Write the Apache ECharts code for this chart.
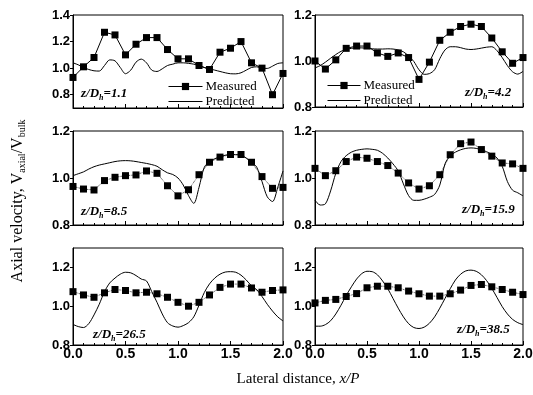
<!DOCTYPE html>
<html>
<head>
<meta charset="utf-8">
<script src="https://cdn.jsdelivr.net/npm/echarts@6/dist/echarts.min.js"></script>
<style>
  html, body { margin: 0; background: #fff; }
  #chart { width: 533px; height: 395px; }
</style>
</head>
<body>
<div id="chart"></div>
<script>
// x positions (x/P)
const measuredX = [0.0, 0.1, 0.2, 0.3, 0.4, 0.5, 0.6, 0.7, 0.8, 0.9, 1.0,
  1.1, 1.2, 1.3, 1.4, 1.5, 1.6, 1.7, 1.8, 1.9, 2.0];
const predictedX = [0.00, 0.05, 0.10, 0.15, 0.20, 0.25, 0.30, 0.35, 0.40, 0.45,
  0.50, 0.55, 0.60, 0.65, 0.70, 0.75, 0.80, 0.85, 0.90, 0.95, 1.00, 1.05, 1.10,
  1.15, 1.20, 1.25, 1.30, 1.35, 1.40, 1.45, 1.50, 1.55, 1.60, 1.65, 1.70, 1.75,
  1.80, 1.85, 1.90, 1.95, 2.00];

const panelLabels = ['1.1', '4.2', '8.5', '15.9', '26.5', '38.5'];
const xTickLabels = ['0.0', '0.5', '1.0', '1.5', '2.0'];

// measured V_axial/V_bulk
const measured1 = [0.93, 1.01, 1.08, 1.27, 1.25, 1.10, 1.18, 1.23, 1.23, 1.14, 1.07,
  1.07, 1.02, 0.99, 1.12, 1.15, 1.20, 1.04, 1.00, 0.80, 0.96];
const measured2 = [1.00, 0.965, 1.005, 1.055, 1.065, 1.065, 1.035, 1.02, 1.035, 1.015, 0.92,
  0.995, 1.09, 1.125, 1.15, 1.16, 1.15, 1.10, 1.04, 0.99, 1.015];
const measured3 = [0.964, 0.953, 0.949, 0.989, 1.003, 1.01, 1.013, 1.03, 1.02, 0.967, 0.924,
  0.95, 1.014, 1.067, 1.089, 1.10, 1.10, 1.067, 1.006, 0.956, 0.96];
const measured4 = [1.041, 1.01, 1.031, 1.07, 1.089, 1.084, 1.07, 1.053, 1.021, 0.979, 0.953,
  0.967, 1.014, 1.099, 1.146, 1.153, 1.121, 1.093, 1.064, 1.06, 1.041];
const measured5 = [1.075, 1.058, 1.046, 1.069, 1.086, 1.081, 1.069, 1.072, 1.064, 1.046, 1.02,
  1.0, 1.02, 1.058, 1.097, 1.114, 1.114, 1.094, 1.072, 1.081, 1.084];
const measured6 = [1.017, 1.03, 1.035, 1.05, 1.065, 1.095, 1.103, 1.103, 1.095, 1.078, 1.064,
  1.052, 1.052, 1.064, 1.083, 1.107, 1.112, 1.10, 1.086, 1.072, 1.06];

// predicted
const predicted1 = [1.040, 1.025, 1.005, 0.990, 0.980, 0.978, 1.020, 1.062, 1.055, 1.005,
  0.958, 0.985, 1.045, 1.068, 1.040, 0.985, 0.975, 0.995, 1.020, 1.030, 1.040, 1.040,
  1.036, 1.030, 1.018, 1.005, 0.995, 0.985, 0.975, 0.965, 0.958, 0.957, 0.965, 0.985,
  1.005, 1.010, 1.000, 0.998, 1.015, 1.035, 1.040];
const predicted2 = [0.970, 0.980, 0.995, 1.012, 1.028, 1.042, 1.050, 1.055, 1.057, 1.057,
  1.055, 1.053, 1.052, 1.052, 1.053, 1.052, 1.048, 1.040, 1.022, 0.998, 0.962, 0.942,
  0.945, 0.962, 1.010, 1.048, 1.062, 1.062, 1.058, 1.052, 1.050, 1.052, 1.056, 1.060,
  1.062, 1.045, 1.015, 0.980, 0.953, 0.943, 0.955];
const predicted3 = [1.010, 1.018, 1.026, 1.038, 1.048, 1.055, 1.060, 1.065, 1.070, 1.073,
  1.074, 1.073, 1.070, 1.066, 1.062, 1.057, 1.050, 1.035, 1.022, 1.015, 1.000, 0.970,
  0.925, 0.892, 0.960, 1.045, 1.070, 1.082, 1.090, 1.097, 1.100, 1.099, 1.097, 1.085,
  1.068, 1.046, 0.985, 0.920, 0.900, 0.960, 1.030];
const predicted4 = [0.905, 0.885, 0.890, 0.945, 1.020, 1.070, 1.095, 1.110, 1.118, 1.122,
  1.124, 1.122, 1.118, 1.105, 1.085, 1.060, 1.030, 0.975, 0.925, 0.905, 0.905, 0.910,
  0.918, 0.930, 0.970, 1.060, 1.095, 1.110, 1.120, 1.126, 1.128, 1.126, 1.120, 1.112,
  1.100, 1.085, 1.050, 0.985, 0.948, 0.937, 0.924];
const predicted5 = [0.906, 0.895, 0.890, 0.910, 0.955, 1.010, 1.075, 1.120, 1.145, 1.165,
  1.175, 1.172, 1.158, 1.140, 1.130, 1.075, 1.020, 0.960, 0.915, 0.898, 0.892, 0.900,
  0.915, 0.945, 1.005, 1.070, 1.115, 1.145, 1.165, 1.176, 1.178, 1.175, 1.160, 1.135,
  1.105, 1.085, 1.050, 1.010, 0.975, 0.945, 0.924];
const predicted6 = [0.897, 0.897, 0.905, 0.925, 0.960, 1.005, 1.055, 1.100, 1.140, 1.168,
  1.180, 1.178, 1.162, 1.130, 1.090, 1.040, 0.990, 0.945, 0.910, 0.890, 0.885, 0.892,
  0.912, 0.945, 0.990, 1.040, 1.090, 1.135, 1.165, 1.182, 1.186, 1.180, 1.162, 1.132,
  1.092, 1.045, 0.998, 0.960, 0.932, 0.915, 0.905];

const measured = [measured1, measured2, measured3, measured4, measured5, measured6];
const predicted = [predicted1, predicted2, predicted3, predicted4, predicted5, predicted6];

// panel frames and y ranges
const panels = [
  { left: 73, top: 15, width: 210, height: 93, min: 0.7, max: 1.4, ticks: [0.8, 1.0, 1.2, 1.4] },
  { left: 315, top: 15, width: 208, height: 92, min: 0.8, max: 1.2, ticks: [0.8, 1.0, 1.2] },
  { left: 73, top: 131, width: 210, height: 94, min: 0.8, max: 1.2, ticks: [0.8, 1.0, 1.2] },
  { left: 315, top: 131, width: 208, height: 94, min: 0.8, max: 1.2, ticks: [0.8, 1.0, 1.2] },
  { left: 73, top: 248, width: 210, height: 97, min: 0.8, max: 1.3, ticks: [0.8, 1.0, 1.2] },
  { left: 315, top: 248, width: 208, height: 97, min: 0.8, max: 1.3, ticks: [0.8, 1.0, 1.2] },
];

// where the z/Dh tags sit
const tagPos = [[81, 94], [465, 93], [81, 212], [462, 210], [93, 335], [457, 330]];

const SERIF = '"Liberation Serif", "DejaVu Serif", serif';
const SANS = '"Liberation Sans", Arial, sans-serif';

const chart = echarts.init(document.getElementById('chart'));

const grids = panels.map((p) => ({
  left: p.left, top: p.top, width: p.width, height: p.height,
  show: true, borderColor: '#000', borderWidth: 1,
  backgroundColor: 'transparent', outerBoundsMode: 'none',
}));

const xAxes = panels.map((p, i) => ({
  type: 'value', gridIndex: i, min: 0, max: 2, interval: 0.5,
  axisLine: { lineStyle: { color: '#000', width: 1 } },
  axisTick: { inside: true, length: 4, lineStyle: { color: '#000' } },
  minorTick: { show: true, splitNumber: 5, length: 2, lineStyle: { color: '#000' } },
  splitLine: { show: false },
  axisLabel: {
    show: i >= 4, margin: 2, color: '#000', fontFamily: SANS,
    fontWeight: 'bold', fontSize: 14,
    formatter: (v) => xTickLabels[Math.round(v / 0.5)],
  },
}));

const yAxes = panels.map((p, i) => ({
  type: 'value', gridIndex: i, min: p.min, max: p.max,
  axisLine: { show: true, lineStyle: { color: '#000', width: 1 } },
  axisTick: { show: true, length: 3, customValues: p.ticks, lineStyle: { color: '#000' } },
  splitLine: { show: false },
  axisLabel: {
    margin: 3, color: '#000', fontFamily: SANS, fontWeight: 'bold', fontSize: 13,
    customValues: p.ticks, formatter: (v) => v.toFixed(1),
  },
}));

const series = [];
panels.forEach((p, i) => {
  series.push({
    name: 'Predicted', type: 'line', xAxisIndex: i, yAxisIndex: i,
    smooth: 0.3, symbol: 'none', silent: true,
    itemStyle: { color: '#000' },
    lineStyle: { color: '#000', width: 1 },
    data: predictedX.map((x, k) => [x, predicted[i][k]]),
  });
  series.push({
    name: 'Measured', type: 'line', xAxisIndex: i, yAxisIndex: i,
    symbol: 'rect', symbolSize: 7, silent: true,
    itemStyle: { color: '#000' },
    lineStyle: { color: '#000', width: i < 2 ? 1 : 0.8, type: i < 2 ? 'solid' : 'dotted' },
    data: measuredX.map((x, k) => [x, measured[i][k]]),
  });
});

const legendBase = {
  data: ['Measured', { name: 'Predicted', itemStyle: { opacity: 0 } }],
  orient: 'vertical', selectedMode: false,
  itemGap: 2, itemWidth: 34, itemHeight: 9,
  lineStyle: { width: 1 },
  textStyle: { fontFamily: SERIF, fontSize: 13, color: '#000', padding: [0, 0, 0, -2] },
};

const tagRich = {
  a: { fontFamily: SERIF, fontSize: 13, fontWeight: 'bold', fontStyle: 'italic', fill: '#000', lineHeight: 16 },
  s: { fontFamily: SERIF, fontSize: 8, fontWeight: 'bold', fontStyle: 'italic', fill: '#000', lineHeight: 8, verticalAlign: 'bottom' },
};

const graphics = tagPos.map((pos, i) => ({
  type: 'text', x: pos[0], y: pos[1], silent: true,
  style: {
    text: '{a|z/D}{s|h}{a|=' + panelLabels[i] + '}',
    rich: tagRich, verticalAlign: 'middle', align: 'left',
  },
}));

graphics.push({
  type: 'text', x: 18, y: 201, rotation: Math.PI / 2, silent: true,
  style: {
    text: '{a|Axial velocity, V}{s|axial}{a|/V}{s|bulk}',
    align: 'center', verticalAlign: 'middle',
    rich: {
      a: { fontFamily: SERIF, fontSize: 16, fill: '#000', lineHeight: 19 },
      s: { fontFamily: SERIF, fontSize: 10, fill: '#000', lineHeight: 10, verticalAlign: 'bottom' },
    },
  },
});
graphics.push({
  type: 'text', x: 298, y: 379, silent: true,
  style: {
    text: '{a|Lateral distance, }{i|x/P}',
    align: 'center', verticalAlign: 'middle',
    rich: {
      a: { fontFamily: SERIF, fontSize: 15, fill: '#000' },
      i: { fontFamily: SERIF, fontSize: 15, fontStyle: 'italic', fill: '#000' },
    },
  },
});

chart.setOption({
  animation: false,
  backgroundColor: '#fff',
  grid: grids,
  xAxis: xAxes,
  yAxis: yAxes,
  legend: [
    { ...legendBase, left: 163, top: 75 },
    { ...legendBase, left: 322, top: 74, itemWidth: 33 },
  ],
  graphic: graphics,
  series: series,
});
</script>
</body>
</html>
